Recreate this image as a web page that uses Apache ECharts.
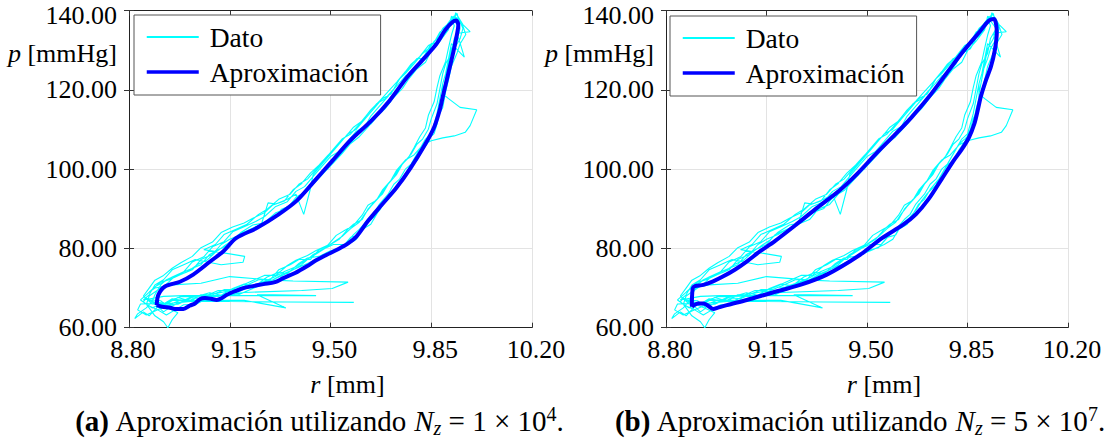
<!DOCTYPE html>
<html>
<head>
<meta charset="utf-8">
<script src="https://cdn.jsdelivr.net/npm/echarts@6/dist/echarts.min.js"></script>
<style>html,body{margin:0;padding:0;background:#fff}#c{width:1113px;height:443px}</style>
</head>
<body>
<div id="c"></div>
<script>
// ---------- DATA ----------
const X_TICKS = [8.80, 9.15, 9.50, 9.85, 10.20];
const Y_TICKS = [60, 80, 100, 120, 140];
const X_NAME = '{i|r} [mm]';
const Y_NAME = '{i|p} [mmHg]';
const CAPTIONS = [
  '{b|(a)} Aproximación utilizando {i|N}{sub|z} = 1 × 10{sup|4}.',
  '{b|(b)} Aproximación utilizando {i|N}{sub|z} = 5 × 10{sup|7}.'
];
const SERIES_NAMES = ['Dato', 'Aproximación'];

const datoTailStart = [[9.581,66.4],[9.35,66.5],[9.15,66.6],[9.00,66.7],[8.95,67.3],[8.92,66.0],[8.88,66.5]];
const datoCycle1 = [[8.90,66.5],[8.93,65.8],[8.97,65.9],[9.00,66.9],[9.04,66.9],[9.07,67.9],[9.11,67.9],[9.15,68.9],[9.19,70.2],[9.23,70.2],[9.27,71.5],[9.30,72.1],[9.34,73.4],[9.37,74.6],[9.41,75.9],[9.45,77.2],[9.48,78.5],[9.52,79.7],[9.56,81.0],[9.59,82.3],[9.61,84.8],[9.64,86.1],[9.66,88.6],[9.68,91.2],[9.70,92.4],[9.72,94.9],[9.75,97.5],[9.77,100.0],[9.79,102.5],[9.81,105.1],[9.83,107.6],[9.85,108.9],[9.86,111.4],[9.87,114.0],[9.88,117.8],[9.89,121.6],[9.90,124.1],[9.91,127.9],[9.92,131.7],[9.965,128.3],[9.94,134.3],[9.985,134.7],[9.96,136.5],[9.935,139.5],[9.93,138.1],[9.92,136.8],[9.90,134.3],[9.88,133.0],[9.86,130.4],[9.83,129.2],[9.81,126.6],[9.78,124.1],[9.75,121.6],[9.73,119.0],[9.70,116.5],[9.67,114.0],[9.64,111.4],[9.61,110.1],[9.58,107.6],[9.55,105.1],[9.52,102.5],[9.49,100.0],[9.46,98.7],[9.43,96.2],[9.40,93.7],[9.37,91.1],[9.33,89.9],[9.30,87.3],[9.26,86.1],[9.22,84.8],[9.18,83.5],[9.15,81.0],[9.11,79.7],[9.08,78.5],[9.05,75.9],[9.01,74.7],[8.97,73.4],[8.93,72.1],[8.91,70.8],[8.89,68.3],[8.88,66.5]];
const datoScribble1 = [[8.86,65.0],[8.83,63.5],[8.82,62.3],[8.85,64.0],[8.87,63.0],[8.90,65.3],[8.92,64.0],[8.94,65.0],[8.91,66.8],[8.88,67.0]];
const datoCycle5 = [[8.87,67.0],[8.90,65.5],[8.94,66.4],[8.97,67.6],[9.01,66.8],[9.04,68.0],[9.08,68.8],[9.12,68.2],[9.16,69.9],[9.20,71.0],[9.24,70.6],[9.28,72.8],[9.32,74.0],[9.35,73.6],[9.39,76.2],[9.42,77.6],[9.46,78.0],[9.50,79.4],[9.54,80.2],[9.57,82.8],[9.60,83.4],[9.62,86.0],[9.65,87.9],[9.67,89.6],[9.69,92.0],[9.71,93.9],[9.74,96.0],[9.76,98.6],[9.78,101.0],[9.80,102.2],[9.82,104.8],[9.84,106.9],[9.86,110.0],[9.87,112.8],[9.89,115.6],[9.90,119.6],[9.91,122.6],[9.92,125.9],[9.94,129.4],[9.95,131.6],[9.97,134.0],[9.96,136.1],[9.94,137.8],[9.92,138.6],[9.91,135.2],[9.88,132.3],[9.85,129.9],[9.83,127.0],[9.80,125.3],[9.77,122.6],[9.75,120.4],[9.72,118.1],[9.69,115.3],[9.66,113.2],[9.63,110.6],[9.60,108.2],[9.57,106.5],[9.54,103.9],[9.51,101.6],[9.48,99.3],[9.45,97.0],[9.42,94.6],[9.38,92.9],[9.35,90.1],[9.31,89.0],[9.27,86.5],[9.23,85.9],[9.19,84.1],[9.16,82.0],[9.13,80.6],[9.10,79.0],[9.07,77.0],[9.04,76.0],[9.00,74.0],[8.96,73.0],[8.93,71.0],[8.90,69.5],[8.87,68.0]];
const datoCycle2 = [[8.86,65.8],[8.90,64.5],[8.94,65.8],[8.98,67.0],[9.02,67.0],[9.05,68.3],[9.09,68.3],[9.13,69.6],[9.17,69.6],[9.21,70.8],[9.25,72.1],[9.29,72.1],[9.32,74.6],[9.36,75.9],[9.39,77.2],[9.43,77.2],[9.46,79.7],[9.50,81.0],[9.53,82.3],[9.56,84.8],[9.58,86.1],[9.61,87.3],[9.63,89.9],[9.66,92.4],[9.68,93.7],[9.70,96.2],[9.73,98.7],[9.75,101.3],[9.78,103.8],[9.80,106.3],[9.82,107.6],[9.84,110.1],[9.85,112.7],[9.87,116.5],[9.88,120.3],[9.89,124.1],[9.90,126.6],[9.92,129.2],[9.93,133.0],[9.95,135.5],[9.94,139.3],[9.92,137.4],[9.91,135.5],[9.89,134.3],[9.87,131.7],[9.85,131.7],[9.82,127.9],[9.80,127.9],[9.77,125.4],[9.74,122.8],[9.72,120.3],[9.69,117.8],[9.66,116.5],[9.63,114.0],[9.60,111.4],[9.57,108.9],[9.54,107.6],[9.51,105.1],[9.48,102.5],[9.45,100.0],[9.42,97.5],[9.39,96.2],[9.36,93.7],[9.32,92.4],[9.28,89.9],[9.25,88.6],[9.21,86.1],[9.17,84.8],[9.13,83.5],[9.10,81.0],[9.06,79.7],[9.202,78.0],[9.196,76.5],[9.12,75.9],[9.03,77.2],[8.99,75.9],[8.95,74.6],[8.92,72.1],[8.89,70.8],[8.87,68.3],[8.85,67.0]];
const datoTailMiddle = [[8.92,67.9],[8.99,68.1],[9.45,68.1],[9.30,68.3],[9.245,68.3],[9.345,65.0],[9.20,66.9],[9.05,66.9],[8.95,66.2],[8.84,66.0]];
const datoCycle3 = [[8.83,64.5],[8.86,63.2],[8.90,64.5],[8.93,63.2],[8.96,64.5],[8.99,65.8],[9.03,65.8],[9.06,67.0],[9.10,67.0],[9.14,68.3],[9.18,68.3],[9.22,69.6],[9.26,70.8],[9.30,72.1],[9.33,73.4],[9.37,74.6],[9.40,75.9],[9.44,78.5],[9.47,79.7],[9.51,81.0],[9.55,81.0],[9.58,83.5],[9.60,84.8],[9.63,87.3],[9.65,88.6],[9.67,91.2],[9.70,93.7],[9.72,96.2],[9.74,97.5],[9.76,100.0],[9.78,101.3],[9.80,103.8],[9.82,106.3],[9.84,107.6],[9.86,109.0],[9.87,111.4],[9.88,115.2],[9.89,117.8],[9.89,121.6],[9.90,124.1],[9.92,127.9],[9.93,130.4],[9.95,132.9],[9.96,135.5],[9.95,137.4],[9.93,138.7],[9.91,136.8],[9.89,135.5],[9.87,133.0],[9.84,130.4],[9.82,129.2],[9.79,126.6],[9.76,124.1],[9.74,122.8],[9.71,119.0],[9.68,117.8],[9.65,115.2],[9.62,112.7],[9.59,110.1],[9.56,108.9],[9.53,106.3],[9.50,103.8],[9.47,101.3],[9.44,98.7],[9.43,95.0],[9.407,88.6],[9.38,93.7],[9.35,92.4],[9.31,91.2],[9.283,91.5],[9.26,86.1],[9.22,84.8],[9.19,83.5],[9.15,82.3],[9.12,81.0],[9.09,78.5],[9.05,77.2],[9.02,74.6],[8.98,73.4],[8.94,72.1],[8.91,71.5],[8.88,69.6],[8.86,68.3],[8.84,67.0]];
const datoScribble2 = [[8.86,66.0],[8.89,63.0],[8.92,61.5],[8.935,60.0],[8.95,62.0],[8.97,63.8],[8.94,64.8],[8.90,66.0],[8.86,67.5]];
const datoCycle6 = [[8.85,66.5],[8.88,65.0],[8.91,66.0],[8.95,65.5],[8.98,66.5],[9.02,67.6],[9.06,67.3],[9.10,68.6],[9.14,69.2],[9.18,69.0],[9.22,70.4],[9.26,71.4],[9.30,72.6],[9.34,74.2],[9.38,75.4],[9.41,76.8],[9.45,78.6],[9.48,80.0],[9.51,81.6],[9.54,83.0],[9.57,85.0],[9.60,86.6],[9.62,88.8],[9.64,90.6],[9.67,93.0],[9.69,95.4],[9.72,97.9],[9.74,100.6],[9.77,102.8],[9.79,105.4],[9.81,108.2],[9.83,110.4],[9.84,113.6],[9.86,117.0],[9.87,120.6],[9.88,123.6],[9.90,127.2],[9.91,130.6],[9.92,133.8],[9.93,136.2],[9.92,138.0],[9.90,136.0],[9.88,134.6],[9.86,132.0],[9.84,131.2],[9.81,128.4],[9.78,126.5],[9.76,124.6],[9.73,122.0],[9.70,119.6],[9.67,117.2],[9.64,115.0],[9.61,112.2],[9.58,110.6],[9.55,108.0],[9.52,105.6],[9.49,103.4],[9.46,101.0],[9.43,99.0],[9.40,96.4],[9.37,94.8],[9.34,92.0],[9.30,91.0],[9.27,89.0],[9.23,87.6],[9.20,86.4],[9.16,85.4],[9.12,84.0],[9.09,81.6],[9.05,80.2],[9.02,78.0],[8.98,76.4],[8.95,75.0],[8.92,73.2],[8.89,72.0],[8.87,70.0],[8.85,68.0]];
const datoCycle4 = [[8.88,66.0],[8.92,66.0],[8.95,66.9],[8.99,66.9],[9.03,68.1],[9.07,68.1],[9.11,69.4],[9.15,69.4],[9.19,70.6],[9.23,71.9],[9.27,73.2],[9.31,73.2],[9.35,75.7],[9.38,77.0],[9.42,78.2],[9.45,79.5],[9.49,80.8],[9.52,83.3],[9.55,84.6],[9.58,85.8],[9.61,88.4],[9.63,90.9],[9.66,92.2],[9.68,94.7],[9.71,97.2],[9.73,99.8],[9.76,102.3],[9.79,103.6],[9.82,106.1],[9.85,107.2],[9.89,107.9],[9.93,108.4],[9.968,109.3],[9.985,111.0],[10.008,115.0],[9.95,115.6],[9.91,117.8],[9.89,119.0],[9.90,122.8],[9.91,126.6],[9.92,130.4],[9.94,132.9],[9.95,135.5],[9.93,137.4],[9.91,136.1],[9.89,133.6],[9.86,132.3],[9.84,129.8],[9.81,127.3],[9.79,124.7],[9.76,123.5],[9.73,121.0],[9.70,118.4],[9.67,115.9],[9.64,113.4],[9.62,110.8],[9.59,109.6],[9.56,107.0],[9.53,104.5],[9.50,103.2],[9.47,100.7],[9.44,98.2],[9.41,95.6],[9.38,94.4],[9.35,91.8],[9.31,90.6],[9.27,88.0],[9.24,86.8],[9.20,85.5],[9.16,84.2],[9.13,81.7],[9.09,80.4],[9.06,77.9],[9.02,76.6],[8.99,74.1],[8.95,72.8],[8.92,71.5],[8.89,70.3],[8.87,69.0]];
const datoTailEnd = [[8.89,70.0],[8.95,70.8],[9.05,71.2],[9.15,72.9],[9.30,72.0],[9.37,71.8],[9.561,71.5],[9.506,69.9],[9.40,69.4],[9.20,68.9],[9.10,68.0],[8.98,67.8],[8.94,66.8]];

// Approximation with N_z = 1e4 (closed loop)
const aproxA = [[8.896,65.7],[8.915,65.3],[8.943,65.05],[8.963,64.7],[8.989,64.7],[9.012,65.6],[9.029,66.1],[9.046,67.2],[9.064,67.5],[9.085,67.3],[9.105,67.0],[9.123,67.5],[9.140,68.3],[9.168,69.2],[9.197,70.0],[9.231,70.5],[9.267,71.0],[9.307,71.5],[9.336,72.5],[9.377,73.8],[9.418,75.5],[9.450,77.0],[9.487,78.4],[9.526,79.8],[9.560,81.2],[9.590,83.0],[9.630,86.9],[9.679,91.1],[9.729,95.3],[9.779,100.4],[9.829,106.3],[9.860,110.6],[9.879,114.8],[9.891,118.6],[9.909,124.1],[9.928,130.0],[9.940,134.3],[9.944,136.4],[9.937,137.5],[9.923,137.1],[9.898,135.1],[9.869,131.7],[9.829,128.3],[9.766,123.2],[9.705,117.3],[9.643,112.3],[9.568,107.2],[9.506,102.1],[9.444,97.0],[9.382,92.0],[9.320,88.6],[9.245,85.2],[9.172,82.6],[9.128,79.3],[9.082,76.7],[9.023,73.4],[8.977,71.6],[8.925,70.4],[8.902,68.3],[8.896,65.7]];
// Approximation with N_z = 5e7 (closed loop)
const aproxB = [[8.890,65.3],[8.893,69.9],[8.901,70.5],[8.930,70.8],[8.964,71.7],[8.998,72.9],[9.041,74.7],[9.081,76.7],[9.128,79.3],[9.178,81.8],[9.253,86.0],[9.327,90.3],[9.402,94.5],[9.464,98.7],[9.530,103.8],[9.600,108.9],[9.655,113.1],[9.715,118.2],[9.776,124.1],[9.838,130.0],[9.888,134.3],[9.925,137.5],[9.943,137.9],[9.950,136.4],[9.952,134.3],[9.945,130.0],[9.932,126.0],[9.912,122.0],[9.896,118.2],[9.886,115.0],[9.874,111.5],[9.855,108.0],[9.830,105.0],[9.800,102.0],[9.760,97.5],[9.715,92.5],[9.670,88.6],[9.626,86.0],[9.552,82.6],[9.476,78.4],[9.360,73.4],[9.267,70.8],[9.163,68.7],[9.081,67.0],[9.012,65.7],[8.981,65.05],[8.965,64.7],[8.946,65.56],[8.930,66.1],[8.912,66.1],[8.890,65.3]];

// ---------- BUILD ----------
const dato = [].concat(datoTailStart, datoCycle1, datoScribble1, datoCycle5, datoCycle2, datoTailMiddle,
  datoCycle3, datoScribble2, datoCycle6, datoCycle4, datoTailEnd);
const X0 = X_TICKS[0];
const X_STEP = X_TICKS[1] - X_TICKS[0];
const X_SPAN = X_TICKS[X_TICKS.length - 1] - X0;
const Y_MIN = Y_TICKS[0];
const Y_MAX = Y_TICKS[Y_TICKS.length - 1];
const shift = arr => arr.map(d => [d[0] - X0, d[1]]);

const FONT = 'Liberation Serif';
const grids = [
  {left: 129, right: 581},
  {left: 666, right: 45}
];
const legendPos = [{left: 134, top: 15}, {left: 670, top: 16}];
const captionX = [319.5, 860];

const tickStyle = {show: true, inside: true, length: 5, lineStyle: {color: '#333', width: 1}};
const axisLineStyle = {show: true, lineStyle: {color: '#222', width: 1}};
const italicRich = {i: {fontFamily: FONT, fontSize: 26, fontStyle: 'italic', fill: '#000'}};

const option = {
  animation: false,
  backgroundColor: '#fff',
  textStyle: {fontFamily: FONT, color: '#000'},
  grid: grids.map(g => ({left: g.left, right: g.right, top: 10.7, bottom: 115.3, containLabel: false, outerBoundsMode: 'none'})),
  xAxis: [],
  yAxis: [],
  legend: [],
  series: []
};

grids.forEach((g, i) => {
  option.xAxis.push({
    type: 'value', gridIndex: i, position: 'bottom',
    min: 0, max: X_SPAN, interval: X_STEP,
    axisLine: axisLineStyle, axisTick: tickStyle,
    splitLine: {show: true, lineStyle: {color: '#e3e3e3', width: 1}},
    axisLabel: {show: false}
  });
  option.xAxis.push({
    type: 'value', gridIndex: i, position: 'top',
    min: 0, max: X_SPAN, interval: X_STEP,
    axisLine: axisLineStyle, axisTick: tickStyle,
    splitLine: {show: false}, axisLabel: {show: false}
  });
  option.yAxis.push({
    type: 'value', gridIndex: i, position: 'left',
    min: Y_MIN, max: Y_MAX, interval: Y_TICKS[1] - Y_TICKS[0],
    axisLine: axisLineStyle, axisTick: tickStyle,
    splitLine: {show: true, lineStyle: {color: '#e3e3e3', width: 1}},
    axisLabel: {show: false}
  });
  option.yAxis.push({
    type: 'value', gridIndex: i, position: 'right',
    min: Y_MIN, max: Y_MAX, interval: Y_TICKS[1] - Y_TICKS[0],
    axisLine: axisLineStyle, axisTick: tickStyle,
    splitLine: {show: false}, axisLabel: {show: false}
  });

  option.series.push({
    name: SERIES_NAMES[0], type: 'line', xAxisIndex: i * 2, yAxisIndex: i * 2,
    data: shift(dato), symbol: 'none', showSymbol: false, smooth: false,
    lineStyle: {color: '#00ffff', width: 1.1}, itemStyle: {color: '#00ffff'}, z: 2, silent: true
  });
  option.series.push({
    name: SERIES_NAMES[1], type: 'line', xAxisIndex: i * 2, yAxisIndex: i * 2,
    data: shift(i === 0 ? aproxA : aproxB), symbol: 'none', showSymbol: false, smooth: 0.3,
    lineStyle: {color: '#0000ff', width: 4}, itemStyle: {color: '#0000ff'}, z: 3, silent: true
  });

  option.legend.push({
    left: legendPos[i].left, top: legendPos[i].top, orient: 'vertical',
    data: [{name: SERIES_NAMES[0], lineStyle: {width: 2}}, {name: SERIES_NAMES[1], lineStyle: {width: 3.5}}],
    itemWidth: 52, itemHeight: 30, itemGap: 5,
    padding: [7, 12, 8, 11],
    backgroundColor: '#fff', borderColor: '#555', borderWidth: 1, borderRadius: 0,
    itemStyle: {opacity: 0}, selectedMode: false,
    textStyle: {fontFamily: FONT, fontSize: 27.5, color: '#000', lineHeight: 30, padding: [0, 0, 0, 6]}
  });
});

const chart = echarts.init(document.getElementById('c'), null, {renderer: 'svg'});
chart.setOption(option);

// Tick labels, axis names and captions placed through the axes' own scales
const texts = [];
grids.forEach((g, i) => {
  const finder = {xAxisIndex: i * 2, yAxisIndex: i * 2};
  X_TICKS.forEach(t => {
    const p = chart.convertToPixel(finder, [t - X0, Y_MIN]);
    texts.push({type: 'text', x: p[0] + 4, y: p[1] + 9, silent: true,
      style: {text: t.toFixed(2), align: 'center', verticalAlign: 'top', fontFamily: FONT, fontSize: 26, fill: '#000'}});
  });
  Y_TICKS.forEach(v => {
    const p = chart.convertToPixel(finder, [0, v]);
    texts.push({type: 'text', x: p[0] - 12, y: p[1] + (v === Y_MAX ? 5 : 0), silent: true,
      style: {text: v.toFixed(2), align: 'right', verticalAlign: 'middle', fontFamily: FONT, fontSize: 26, fill: '#000'}});
  });
  const bottomMid = chart.convertToPixel(finder, [X_SPAN / 2, Y_MIN]);
  texts.push({type: 'text', x: bottomMid[0] + 17, y: bottomMid[1] + 44, silent: true,
    style: {text: X_NAME, align: 'center', verticalAlign: 'top', fontFamily: FONT, fontSize: 26, fill: '#000', rich: italicRich}});
  const topLeft = chart.convertToPixel(finder, [0, Y_MAX]);
  texts.push({type: 'text', x: topLeft[0] - 12, y: topLeft[1] + 43, silent: true,
    style: {text: Y_NAME, align: 'right', verticalAlign: 'middle', fontFamily: FONT, fontSize: 26, fill: '#000', rich: italicRich}});
  texts.push({
    type: 'text', x: captionX[i], y: 421, silent: true,
    style: {
      text: CAPTIONS[i], align: 'center', verticalAlign: 'middle',
      fontFamily: FONT, fontSize: 29, fill: '#000', lineHeight: 34,
      rich: {
        b: {fontFamily: FONT, fontSize: 29, fontWeight: 'bold', fill: '#000', lineHeight: 34},
        i: {fontFamily: FONT, fontSize: 29, fontStyle: 'italic', fill: '#000', lineHeight: 34},
        sub: {fontFamily: FONT, fontSize: 20, fontStyle: 'italic', fill: '#000', lineHeight: 20, verticalAlign: 'bottom'},
        sup: {fontFamily: FONT, fontSize: 20, fill: '#000', lineHeight: 20, verticalAlign: 'top'}
      }
    }
  });
});
chart.setOption({graphic: texts});
</script>
</body>
</html>
